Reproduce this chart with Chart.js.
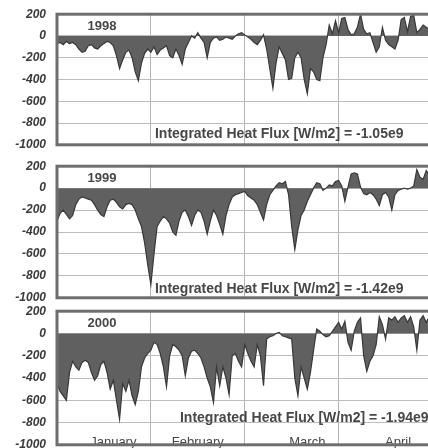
<!DOCTYPE html>
<html>
<head>
<meta charset="utf-8">
<script src="https://cdn.jsdelivr.net/npm/chart.js@4/dist/chart.umd.min.js"></script>
<style>
  html, body { margin: 0; padding: 0; background: #fff; overflow: hidden; width: 428px; height: 448px; position: relative; }
  canvas { position: absolute; left: 0; display: block; }
</style>
</head>
<body>
<canvas id="c0" width="440" height="167" style="top:-4px;width:440px;height:167px"></canvas>
<canvas id="c1" width="440" height="168" style="top:148px;width:440px;height:168px"></canvas>
<canvas id="c2" width="440" height="170" style="top:293px;width:440px;height:170px"></canvas>
<script>
// ---- data ----
const years = ['1998', '1999', '2000'];
const yTicks = [200, 0, -200, -400, -600, -800, -1000];
const monthNames = ['January', 'February', 'March', 'April'];
const monthStartDays = [0, 30, 60, 90, 120];
const monthLabelDays = [18, 45, 80, 109];
const integratedFlux = ['-1.05e9', '-1.42e9', '-1.94e9'];

const flux1998 = [
  -70, -60, -80, -50, -70, -60, -80, -120, -150, -140,
  -90, -80, -110, -120, -90, -70, -50, -60, -90, -180,
  -300, -220, -150, -130, -200, -330, -410, -250, -160, -120,
  -150, -100, -170, -130, -110, -90, -180, -200, -120, -180,
  -260, -120, -60, 0, -20, 30, -20, -60, -200, -60,
  -20, -10, -40, -30, -10, -20, -30, 0, 20, 30,
  10, -10, -30, -60, -80, -40, 10, -120, -300, -480,
  -250, -100, -160, -220, -400, -390, -200, -150, -200, -400,
  -530, -300, -330, -400, -410, -200, -80, 100, 20, 140,
  30, 160, 170, 60, 10, 20, 80, 200, 60, 20,
  30, -60, -150, -100, 80, -40, -80, -100, -120, -40,
  150, 170, 40, 180, 190, 30, 60, 100, 80, 60,
  80, 40, 60
];
const flux1999 = [
  -300, -230, -200, -240, -280, -250, -150, -100, -80, -90,
  -100, -110, -150, -200, -240, -260, -170, -110, -100, -130,
  -170, -190, -150, -140, -150, -200, -280, -350, -500, -700,
  -880, -600, -350, -300, -260, -280, -320, -400, -430, -300,
  -220, -200, -260, -340, -250, -200, -220, -300, -420, -300,
  -200, -250, -330, -420, -250, -150, -80, -60, -50, -40,
  -30, -70, -90, -110, -150, -220, -290, -150, -60, -20,
  20, 50, 40, 60, -60, -350, -560, -380, -250, -200,
  -120, -60, 0, 50, 40, -20, 0, 30, 20, 60,
  70, 20, -120, 10, 130, 140, 130, 10, -50, -60,
  -40, -60, -100, -160, -60, -40, -80, -200, -60, -20,
  -10, 0, -10, 0, 20, 170, 100, 80, 160, 120,
  100, 140, 100
];
const flux2000 = [
  -450, -520, -560, -600, -350, -250, -300, -330, -260, -240,
  -260, -350, -420, -380, -280, -250, -350, -500, -420, -600,
  -770, -450, -520, -420, -560, -640, -520, -300, -220, -180,
  -150, -80, -100, -180, -300, -480, -200, -100, -120, -150,
  -200, -380, -220, -160, -150, -180, -220, -300, -400, -480,
  -620, -300, -470, -300, -400, -550, -200, -180, -250, -300,
  -100, -180, -250, -300, -100, -200, -470, -50, -30, -20,
  0, 10, -20, -30, -40, -50, -400, -560, -300, -400,
  -500, -350, -150, 40, 20, -10, -30, -20, 20, 60,
  100, 40, 110, -80, -150, 20, 100, 140, -200, -340,
  -250, -200, -100, 150, 80, -50, 140, 120, 150, 100,
  140, 160, 100, 150, 60, -150, 120, 160, 100, 150,
  120, 140, 100
];
const allFlux = [flux1998, flux1999, flux2000];

// annotation anchors (in data units)
const noteStartDay = [31.3, 31.3, 39.3];
const noteValue = [-905, -920, -765];

const decorPlugin = {
  id: 'decor',
  afterDatasetsDraw(chart) {
    const o = chart.options.plugins.decor;
    const ctx = chart.ctx, xs = chart.scales.x, ys = chart.scales.y, a = chart.chartArea;
    ctx.save();
    ctx.fillStyle = '#474747';
    ctx.font = 'bold 13px "Liberation Sans", Arial, sans-serif';
    ctx.textBaseline = 'middle';
    ctx.textAlign = 'center';
    ctx.fillText(o.year, xs.getPixelForValue(14.4), ys.getPixelForValue(92));
    ctx.textAlign = 'left';
    ctx.font = 'bold 14px "Liberation Sans", Arial, sans-serif';
    ctx.fillText('Integrated Heat Flux [W/m2] = ' + o.total, xs.getPixelForValue(o.noteDay), ys.getPixelForValue(o.noteVal));
    if (o.months) {
      ctx.font = '13px "Liberation Sans", Arial, sans-serif';
      ctx.textAlign = 'center';
      ctx.textBaseline = 'alphabetic';
      monthNames.forEach((m, i) => {
        ctx.fillText(m, xs.getPixelForValue(monthLabelDays[i]), a.bottom + 1);
      });
    }
    ctx.strokeStyle = '#6e6e6e';
    ctx.lineWidth = 3;
    ctx.strokeRect(a.left, a.top, a.right - a.left + 10, a.bottom - a.top);
    ctx.restore();
  }
};

allFlux.forEach((series, p) => {
  new Chart(document.getElementById('c' + p), {
    type: 'line',
    data: {
      datasets: [{
        data: series.map((v, i) => ({ x: i, y: v })),
        borderColor: '#383838',
        backgroundColor: '#606060',
        borderWidth: 1.2,
        pointRadius: 0,
        tension: 0,
        fill: 'origin'
      }]
    },
    options: {
      responsive: false,
      devicePixelRatio: 1,
      animation: false,
      events: [],
      layout: { padding: { left: 0, right: 0, top: 14, bottom: 5 } },
      plugins: {
        legend: { display: false },
        tooltip: { enabled: false },
        decor: { year: years[p], total: integratedFlux[p], noteDay: noteStartDay[p], noteVal: noteValue[p], months: p === 2 }
      },
      scales: {
        x: {
          type: 'linear',
          min: 0,
          max: 122.4,
          afterBuildTicks: s => { s.ticks = monthStartDays.map(v => ({ value: v })); },
          ticks: { display: false },
          grid: { color: '#b4b4b4', drawTicks: false, lineWidth: 1 }
        },
        y: {
          min: -1000,
          max: 200,
          afterBuildTicks: s => { s.ticks = yTicks.map(v => ({ value: v })); },
          afterFit: s => { s.width = 57; },
          ticks: {
            padding: 11,
            color: '#3a3a3a',
            callback: v => String(v),
            font: { family: '"Liberation Sans", Arial, sans-serif', size: 12, weight: 'bold', style: 'italic' }
          },
          grid: { color: '#bcbcbc', drawTicks: false, lineWidth: 1 }
        }
      }
    },
    plugins: [decorPlugin]
  });
});
</script>
</body>
</html>
